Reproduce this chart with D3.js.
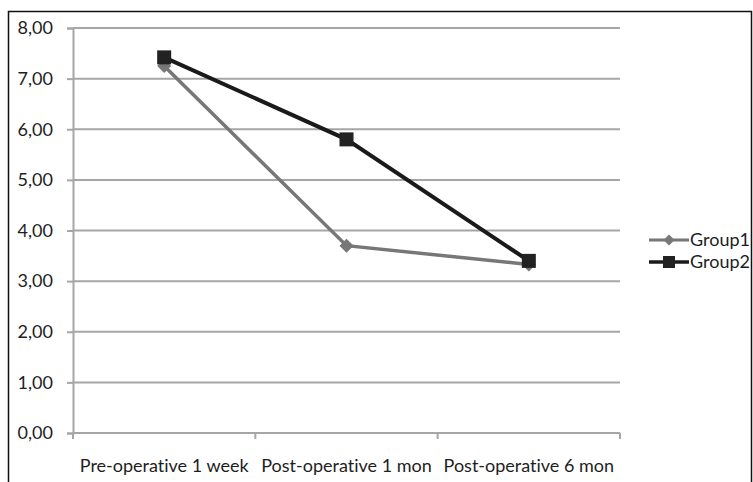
<!DOCTYPE html>
<html>
<head>
<meta charset="utf-8">
<script src="https://cdn.jsdelivr.net/npm/d3@7"></script>
<style>
  html, body { margin: 0; padding: 0; background: #fff; }
  svg { display: block; }
  text { font-family: Lato, "Open Sans", sans-serif; fill: #1e1e1e;
         font-variant-ligatures: none; font-feature-settings: "liga" 0, "clig" 0; }
</style>
</head>
<body>
<svg id="chart" width="753" height="482"></svg>
<script>
// Time points and mean scores per group
const categories = ["Pre-operative 1 week", "Post-operative 1 mon", "Post-operative 6 mon"];
const group1 = [7.25, 3.70, 3.33];
const group2 = [7.42, 5.80, 3.40];
const yTicks = [0, 1, 2, 3, 4, 5, 6, 7, 8];
const seriesNames = ["Group1", "Group2"];

const FONT = 'Lato, "Open Sans", sans-serif';
const svg = d3.select("#chart");

// Outer frame (open at the bottom)
svg.append("path")
  .attr("d", "M8.5,490 V11.5 H751.5 V490")
  .attr("fill", "none")
  .attr("stroke", "#111")
  .attr("stroke-width", 1.5);

const plot = { left: 73, right: 620, top: 28, bottom: 433 };

const x = d3.scaleBand().domain(categories).range([plot.left, plot.right]).paddingInner(0).paddingOuter(0);
const y = d3.scaleLinear().domain([0, 8]).range([plot.bottom, plot.top]);

// Horizontal gridlines
svg.append("g")
  .selectAll("line")
  .data(yTicks)
  .join("line")
  .attr("x1", plot.left).attr("x2", plot.right)
  .attr("y1", d => y(d)).attr("y2", d => y(d))
  .attr("stroke", "#a6a6a6").attr("stroke-width", 2);

// Y axis
const yAxis = d3.axisLeft(y).tickValues(yTicks).tickSize(6).tickPadding(14)
  .tickFormat(d => d3.format(".2f")(d).replace(".", ","));
const gy = svg.append("g").attr("transform", `translate(${plot.left},0)`).call(yAxis);
gy.select(".domain").attr("stroke", "#a6a6a6").attr("stroke-width", 2);
gy.selectAll(".tick line").attr("stroke", "#a6a6a6").attr("stroke-width", 2);
gy.selectAll(".tick text").attr("font-size", 18).attr("fill", "#1e1e1e")
  .style("font-family", FONT);

// X axis with ticks between categories
const xEdges = categories.map(c => x(c)).concat([plot.right]);
const gx = svg.append("g");
gx.append("line")
  .attr("x1", plot.left).attr("x2", plot.right)
  .attr("y1", plot.bottom).attr("y2", plot.bottom)
  .attr("stroke", "#a6a6a6").attr("stroke-width", 2);
gx.selectAll("line.tk").data(xEdges).join("line").attr("class", "tk")
  .attr("x1", d => d).attr("x2", d => d)
  .attr("y1", plot.bottom).attr("y2", plot.bottom + 6)
  .attr("stroke", "#a6a6a6").attr("stroke-width", 2);
gx.selectAll("text").data(categories).join("text")
  .attr("x", d => x(d) + x.bandwidth() / 2)
  .attr("y", 472)
  .attr("text-anchor", "middle")
  .attr("font-size", 18)
  .text(d => d);

const cx = d => x(d) + x.bandwidth() / 2;
const line = d3.line().x((d, i) => cx(categories[i])).y(d => y(d));
const diamondPath = r => `M0,${-r}L${r},0L0,${r}L${-r},0Z`;

// Group1: grey line with diamond markers
svg.append("path").datum(group1)
  .attr("d", line).attr("fill", "none")
  .attr("stroke", "#777").attr("stroke-width", 3.5);
svg.append("g").selectAll("path").data(group1).join("path")
  .attr("transform", (d, i) => `translate(${cx(categories[i])},${y(d)})`)
  .attr("d", diamondPath(7)).attr("fill", "#777");

// Group2: dark line with square markers
svg.append("path").datum(group2)
  .attr("d", line).attr("fill", "none")
  .attr("stroke", "#1a1a1a").attr("stroke-width", 4);
svg.append("g").selectAll("rect").data(group2).join("rect")
  .attr("x", (d, i) => cx(categories[i]) - 7)
  .attr("y", d => y(d) - 7)
  .attr("width", 14).attr("height", 14)
  .attr("fill", "#222");

// Legend
const legend = svg.append("g");
const legendY = [240, 262];
const legendColors = ["#777", "#1a1a1a"];
seriesNames.forEach((name, i) => {
  const g = legend.append("g").attr("transform", `translate(0,${legendY[i]})`);
  g.append("line").attr("x1", 649).attr("x2", 689).attr("y1", 0).attr("y2", 0)
    .attr("stroke", legendColors[i]).attr("stroke-width", i ? 3.5 : 3);
  if (i === 0) {
    g.append("path").attr("transform", "translate(669,0)")
      .attr("d", diamondPath(5.5)).attr("fill", "#777");
  } else {
    g.append("rect").attr("x", 663).attr("y", -6).attr("width", 12).attr("height", 12).attr("fill", "#222");
  }
  g.append("text").attr("x", 690).attr("y", 6).attr("font-size", 18).text(name);
});
</script>
</body>
</html>
